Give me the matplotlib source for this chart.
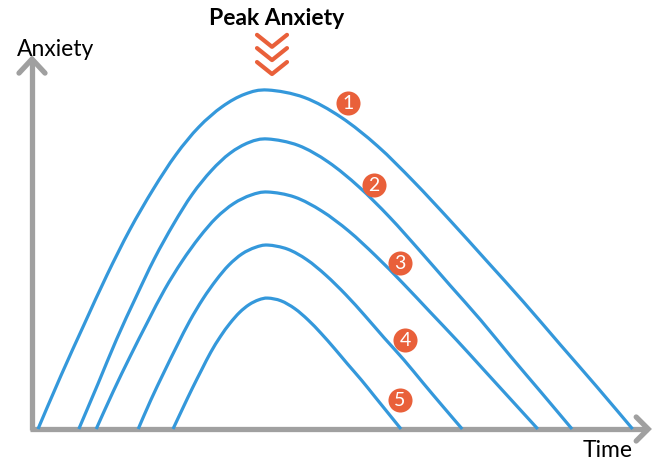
import matplotlib.pyplot as plt
import numpy as np
from matplotlib.path import Path
from matplotlib.patches import PathPatch

# =========================
# DATA (time / anxiety, arbitrary units)
# =========================
curve1_t = [1.0, 4.8, 8.7, 12.5, 16.3, 20.2, 24.0, 27.8, 31.7, 35.5, 39.3,
            45.4, 51.5, 57.6, 63.6, 69.7, 75.8, 81.9, 88.0, 94.1, 100.1]
curve1_a = [0.0, 15.6, 30.8, 45.3, 58.6, 70.5, 80.7, 88.8, 94.8, 98.5, 99.7,
            97.5, 91.7, 83.2, 72.8, 61.3, 49.4, 37.4, 24.9, 12.5, 0.0]

curve2_t = [7.8, 11.0, 14.1, 17.3, 20.4, 23.6, 26.7, 29.9, 33.0, 36.2, 39.3,
            44.4, 49.4, 54.5, 59.6, 64.6, 69.7, 74.8, 79.8, 84.9, 90.0]
curve2_a = [0.0, 13.3, 26.4, 38.7, 50.1, 60.3, 69.0, 76.0, 81.1, 84.3, 85.3,
            83.4, 78.5, 71.2, 62.3, 52.5, 42.2, 32.0, 21.3, 10.7, 0.0]

curve3_t = [10.7, 13.5, 16.4, 19.3, 22.1, 25.0, 27.9, 30.7, 33.6, 36.5, 39.3,
            43.8, 48.3, 52.8, 57.3, 61.8, 66.3, 70.8, 75.3, 79.8, 84.3]
curve3_a = [0.0, 10.9, 21.5, 31.6, 41.0, 49.3, 56.4, 62.1, 66.3, 68.8, 69.7,
            68.2, 64.1, 58.2, 50.9, 42.9, 34.5, 26.1, 17.4, 8.7, 0.0]

curve4_t = [17.7, 19.8, 22.0, 24.2, 26.3, 28.5, 30.7, 32.8, 35.0, 37.2, 39.3,
            42.6, 45.8, 49.0, 52.3, 55.5, 58.7, 62.0, 65.2, 68.4, 71.7]
curve4_a = [0.0, 8.5, 16.7, 24.6, 31.8, 38.3, 43.8, 48.2, 51.5, 53.4, 54.1,
            52.9, 49.8, 45.2, 39.5, 33.3, 26.8, 20.3, 13.5, 6.8, 0.0]

curve5_t = [23.5, 25.1, 26.7, 28.3, 29.8, 31.4, 33.0, 34.6, 36.2, 37.8, 39.3,
            41.5, 43.8, 46.0, 48.2, 50.4, 52.6, 54.9, 57.1, 59.3, 61.5]
curve5_a = [0.0, 6.0, 11.9, 17.5, 22.6, 27.2, 31.1, 34.3, 36.6, 38.0, 38.5,
            37.7, 35.4, 32.1, 28.1, 23.7, 19.1, 14.4, 9.6, 4.8, 0.0]

badge_labels = ["1", "2", "3", "4", "5"]
badge_t = [52.7, 57.0, 61.3, 62.2, 61.3]
badge_a = [95.9, 71.8, 48.8, 26.2, 8.5]

title = "Peak Anxiety"
y_label = "Anxiety"
x_label = "Time"

BLUE = "#3498db"
ORANGE = "#e9603a"
GRAY = "#a0a0a0"

# px per unit, used for arrow/chevron sizes
SX, SY = 6.0, 3.4


def smooth_path(ts, ys):
    # catmull-rom through the read points, as cubic bezier segments
    pts = np.column_stack([ts, ys])
    n = len(pts)
    verts = [pts[0]]
    codes = [Path.MOVETO]
    for i in range(n - 1):
        p0 = pts[max(i - 1, 0)]
        p1 = pts[i]
        p2 = pts[i + 1]
        p3 = pts[min(i + 2, n - 1)]
        c1 = p1 + (p2 - p0) / 6.0
        c2 = p2 - (p3 - p1) / 6.0
        verts += [c1, c2, p2]
        codes += [Path.CURVE4] * 3
    return Path(verts, codes)


fig = plt.figure(figsize=(6.55, 4.62), dpi=100)
ax = fig.add_axes([0, 0, 1, 1])
ax.set_xlim(-32 / SX, (655 - 32) / SX)
ax.set_ylim((429 - 462) / SY, 429 / SY)
ax.axis("off")

# axes with open arrow heads
x_tip, y_tip = 102.7, 108.8
ax.plot([0, 0], [-0.3, y_tip], color=GRAY, lw=3.8, solid_capstyle="butt")
ax.plot([-0.3, x_tip], [0, 0], color=GRAY, lw=3.8, solid_capstyle="butt")
ax.plot([-13 / SX, 0, 13 / SX], [y_tip - 14 / SY, y_tip, y_tip - 14 / SY],
        color=GRAY, lw=3.8, solid_capstyle="round", solid_joinstyle="miter")
ax.plot([x_tip - 12 / SX, x_tip, x_tip - 12 / SX], [12 / SY, 0, -12 / SY],
        color=GRAY, lw=3.8, solid_capstyle="round", solid_joinstyle="miter")

# curves
for ts, ys in [(curve1_t, curve1_a), (curve2_t, curve2_a), (curve3_t, curve3_a),
               (curve4_t, curve4_a), (curve5_t, curve5_a)]:
    ax.add_patch(PathPatch(smooth_path(ts, ys), fill=False, ec=BLUE, lw=2.3,
                           capstyle="butt", zorder=3))

# numbered badges
ax.scatter(badge_t, badge_a, s=300, color=ORANGE, zorder=4, linewidths=0)
for lab, t, a in zip(badge_labels, badge_t, badge_a):
    ax.text(t, a - 0.2, lab, color="white", fontsize=14, ha="center", va="center",
            family="Lato", zorder=5)

# chevrons above the peak
chev_x = 40.0
for tip in [112.4, 108.5, 104.4]:
    ax.plot([chev_x - 15 / SX, chev_x, chev_x + 15 / SX],
            [tip + 12 / SY, tip, tip + 12 / SY],
            color=ORANGE, lw=3.0, solid_capstyle="round", solid_joinstyle="round")

ax.text(40.7, 118.8, title, fontsize=16.5, fontweight="bold", family="Lato",
        ha="center", va="baseline")
ax.text(-15 / SX, (429 - 56) / SY, y_label, fontsize=16.5, family="Lato",
        ha="left", va="baseline")
ax.text((583 - 32) / SX, (429 - 457) / SY, x_label, fontsize=16.5, family="Lato",
        ha="left", va="baseline")

fig.savefig("out.png", dpi=100)
